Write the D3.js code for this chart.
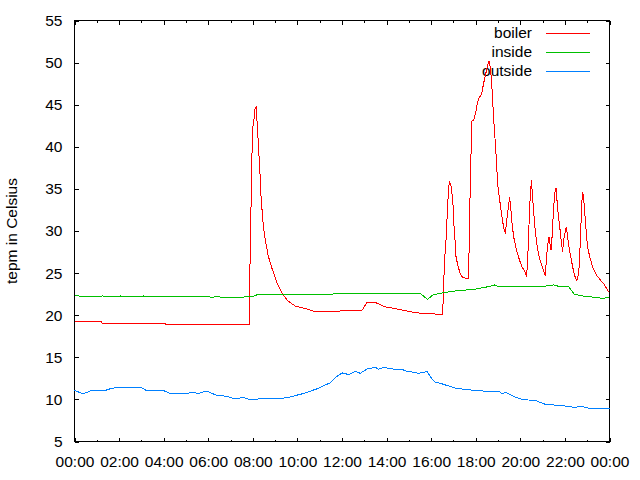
<!DOCTYPE html>
<html>
<head>
<meta charset="utf-8">
<script src="https://cdn.jsdelivr.net/npm/d3@7"></script>
<style>
    body { margin: 0; background: #fff; }
    text { font-family: "Liberation Sans", Arial, sans-serif; font-size: 15.5px; fill: #000; }
</style>
</head>
<body>
<div id="chart"></div>
<script>
var boiler = [
    ["00:00", 19.2], ["01:13", 19.2], ["01:15", 19.0], ["04:04", 19.0], ["04:05", 18.9],
    ["07:50", 18.9], ["07:51", 22.5], ["07:54", 30.1], ["07:57", 37.6], ["07:59", 41.7],
    ["08:01", 42.8], ["08:04", 43.5], ["08:06", 44.5], ["08:09", 44.7], ["08:12", 42.5],
    ["08:14", 41.0], ["08:17", 38.6], ["08:20", 36.2], ["08:22", 34.2], ["08:25", 32.4],
    ["08:28", 30.7], ["08:33", 29.1], ["08:41", 27.1], ["08:52", 25.5], ["09:05", 23.8],
    ["09:19", 22.6], ["09:34", 21.7], ["09:54", 21.1], ["10:21", 20.8], ["10:48", 20.4],
    ["11:28", 20.4], ["11:55", 20.5], ["12:13", 20.5], ["12:54", 20.6], ["13:07", 21.5],
    ["13:30", 21.5], ["13:56", 21.0], ["14:32", 20.7], ["15:17", 20.3], ["15:44", 20.2],
    ["16:31", 20.1], ["16:36", 26.5], ["16:40", 28.9], ["16:43", 31.8], ["16:46", 34.4],
    ["16:49", 35.9], ["16:52", 35.6], ["16:54", 35.2], ["16:57", 34.0], ["17:00", 32.4],
    ["17:02", 30.1], ["17:05", 28.5], ["17:07", 26.9], ["17:13", 25.7], ["17:18", 25.0],
    ["17:24", 24.5], ["17:41", 24.3], ["17:43", 31.6], ["17:46", 36.0], ["17:48", 41.0],
    ["17:50", 43.1], ["17:54", 43.1], ["18:00", 44.1], ["18:03", 44.9], ["18:08", 45.7],
    ["18:16", 46.3], ["18:21", 47.5], ["18:27", 48.7], ["18:32", 49.7], ["18:36", 50.2],
    ["18:40", 49.1], ["18:43", 47.5], ["18:48", 43.5], ["18:54", 39.6], ["18:59", 35.6],
    ["19:07", 32.8], ["19:15", 30.4], ["19:20", 29.7], ["19:23", 31.2], ["19:29", 33.2],
    ["19:31", 34.0], ["19:34", 32.8], ["19:38", 30.8], ["19:42", 29.3], ["19:50", 27.7],
    ["19:58", 26.5], ["20:05", 25.7], ["20:13", 25.1], ["20:17", 24.6], ["20:19", 26.1],
    ["20:22", 28.9], ["20:24", 31.6], ["20:27", 34.4], ["20:30", 36.0], ["20:32", 34.6],
    ["20:35", 32.8], ["20:40", 30.1], ["20:46", 27.9], ["20:51", 26.9], ["20:59", 25.7],
    ["21:07", 24.7], ["21:10", 26.5], ["21:13", 28.1], ["21:17", 29.3], ["21:19", 28.7],
    ["21:23", 27.7], ["21:26", 29.7], ["21:29", 32.4], ["21:33", 34.6], ["21:36", 35.1],
    ["21:38", 34.0], ["21:42", 32.0], ["21:47", 30.1], ["21:51", 28.5], ["21:54", 27.5],
    ["21:56", 28.9], ["22:02", 30.1], ["22:04", 30.5], ["22:07", 29.3], ["22:11", 28.1],
    ["22:15", 27.1], ["22:21", 25.7], ["22:26", 24.7], ["22:32", 24.1], ["22:37", 24.9],
    ["22:40", 27.3], ["22:43", 30.5], ["22:45", 33.2], ["22:48", 34.6], ["22:51", 33.6],
    ["22:53", 32.4], ["22:57", 30.1], ["23:01", 28.1], ["23:07", 26.9], ["23:15", 25.7],
    ["23:26", 24.7], ["23:37", 24.1], ["23:45", 23.7], ["23:53", 23.1], ["23:59", 22.7]
];

var inside = [
    ["00:00", 22.3], ["00:10", 22.3], ["00:20", 22.2], ["01:10", 22.2], ["01:15", 22.3],
    ["01:20", 22.2], ["02:00", 22.2], ["02:05", 22.3], ["02:10", 22.2], ["03:00", 22.2],
    ["03:05", 22.3], ["03:10", 22.2], ["06:00", 22.2], ["06:10", 22.1], ["06:20", 22.2],
    ["06:50", 22.1], ["07:30", 22.1], ["07:40", 22.2], ["08:00", 22.2], ["08:10", 22.4],
    ["08:30", 22.5], ["11:30", 22.5], ["12:00", 22.6], ["15:30", 22.6], ["15:50", 21.9],
    ["16:05", 22.4], ["16:35", 22.7], ["17:10", 22.9], ["18:00", 23.1], ["18:35", 23.4],
    ["18:50", 23.6], ["19:00", 23.4], ["21:00", 23.4], ["21:30", 23.6], ["21:45", 23.4],
    ["22:10", 23.4], ["22:25", 22.5], ["22:45", 22.3], ["23:25", 22.1], ["23:40", 22.0],
    ["24:00", 22.1]
];

var outside = [
    ["00:00", 11.06], ["00:24", 10.66], ["00:42", 11.0], ["01:18", 11.0], ["01:36", 11.26],
    ["01:49", 11.38], ["03:01", 11.4], ["03:15", 11.0], ["03:32", 11.06], ["03:59", 11.06],
    ["04:17", 10.7], ["04:53", 10.66], ["05:20", 10.85], ["05:33", 10.7], ["05:56", 11.0],
    ["06:23", 10.46], ["06:50", 10.38], ["07:08", 10.1], ["07:35", 10.2], ["07:53", 9.98],
    ["08:29", 10.1], ["09:14", 10.1], ["09:41", 10.3], ["10:16", 10.7], ["10:53", 11.26],
    ["11:28", 11.97], ["11:42", 12.6], ["12:00", 13.15], ["12:18", 12.95], ["12:36", 13.35],
    ["12:49", 13.1], ["13:07", 13.6], ["13:30", 13.8], ["13:38", 13.6], ["13:52", 13.8],
    ["14:19", 13.6], ["14:41", 13.6], ["14:50", 13.4], ["15:26", 13.1], ["15:49", 13.3],
    ["16:02", 12.45], ["16:11", 12.05], ["16:29", 11.85], ["17:05", 11.33], ["17:41", 11.14],
    ["18:26", 10.97], ["19:02", 10.97], ["19:11", 10.66], ["19:20", 10.85], ["19:47", 10.26],
    ["20:05", 9.98], ["20:41", 9.87], ["21:08", 9.4], ["21:53", 9.27], ["22:28", 9.04],
    ["22:42", 9.2], ["23:04", 8.97], ["24:00", 8.97]
];

var seriesNames = ["boiler", "inside", "outside"];
var seriesColors = ["#ff0000", "#00c000", "#0080ff"];
var xMajorTicks = [0, 2, 4, 6, 8, 10, 12, 14, 16, 18, 20, 22, 24];
var xMinorTicks = [1, 3, 5, 7, 9, 11, 13, 15, 17, 19, 21, 23];
var yTicks = [5, 10, 15, 20, 25, 30, 35, 40, 45, 50, 55];
var yLabel = "tepm in Celsius";

var width = 640, height = 480;
var plot = { left: 74.5, right: 609.5, top: 20.5, bottom: 441.5 };

function toHours(s) {
    var p = s.split(":");
    return +p[0] + (+p[1]) / 60;
}

function pad(n) {
    return (n < 10 ? "0" : "") + n;
}

var x = d3.scaleLinear().domain([0, 24]).range([plot.left, plot.right]);
var y = d3.scaleLinear().domain([5, 55]).range([plot.bottom, plot.top]);
var color = d3.scaleOrdinal().domain(seriesNames).range(seriesColors);

var svg = d3.select("#chart").append("svg")
    .attr("width", width)
    .attr("height", height)
    .style("display", "block");

svg.append("rect")
    .attr("width", width)
    .attr("height", height)
    .attr("fill", "#fff");

function styleAxis(g) {
    g.select(".domain").remove();
    g.selectAll("line").attr("stroke", "#000").attr("shape-rendering", "crispEdges");
}

// bottom + top, major and minor
svg.append("g")
    .attr("transform", "translate(0," + plot.bottom + ")")
    .call(d3.axisBottom(x).tickValues(xMajorTicks)
        .tickFormat(function (h) { return pad(h % 24) + ":00"; })
        .tickSize(-4).tickPadding(14))
    .call(styleAxis);

svg.append("g")
    .attr("transform", "translate(0," + plot.bottom + ")")
    .call(d3.axisBottom(x).tickValues(xMinorTicks).tickFormat("").tickSize(-2))
    .call(styleAxis);

svg.append("g")
    .attr("transform", "translate(0," + plot.top + ")")
    .call(d3.axisTop(x).tickValues(xMajorTicks).tickFormat("").tickSize(-4))
    .call(styleAxis);

svg.append("g")
    .attr("transform", "translate(0," + plot.top + ")")
    .call(d3.axisTop(x).tickValues(xMinorTicks).tickFormat("").tickSize(-2))
    .call(styleAxis);

svg.append("g")
    .attr("transform", "translate(" + plot.left + ",0)")
    .call(d3.axisLeft(y).tickValues(yTicks).tickSize(-4).tickPadding(12))
    .call(styleAxis);

svg.append("g")
    .attr("transform", "translate(" + plot.right + ",0)")
    .call(d3.axisRight(y).tickValues(yTicks).tickFormat("").tickSize(-4))
    .call(styleAxis);

svg.selectAll(".tick text")
    .attr("font-size", null)
    .attr("font-family", null)
    .attr("fill", "#000");

svg.append("rect")
    .attr("x", plot.left)
    .attr("y", plot.top)
    .attr("width", plot.right - plot.left)
    .attr("height", plot.bottom - plot.top)
    .attr("fill", "none")
    .attr("stroke", "#000")
    .attr("shape-rendering", "crispEdges");

svg.append("text")
    .attr("transform", "translate(17," + ((plot.top + plot.bottom) / 2) + ") rotate(-90)")
    .attr("text-anchor", "middle")
    .text(yLabel);

// key
var key = svg.append("g").selectAll("g")
    .data(seriesNames)
    .enter().append("g")
    .attr("transform", function (d, i) { return "translate(0," + (33.5 + i * 19) + ")"; });

key.append("text")
    .attr("x", 532)
    .attr("dy", "0.28em")
    .attr("text-anchor", "end")
    .text(function (d) { return d; });

key.append("line")
    .attr("x1", 545.5)
    .attr("x2", 589.5)
    .attr("stroke", function (d) { return color(d); })
    .attr("shape-rendering", "crispEdges");

var line = d3.line()
    .x(function (d) { return x(toHours(d[0])); })
    .y(function (d) { return y(d[1]); });

svg.append("g").selectAll("path")
    .data([boiler, inside, outside])
    .enter().append("path")
    .attr("d", line)
    .attr("fill", "none")
    .attr("stroke", function (d, i) { return seriesColors[i]; })
    .attr("stroke-width", 1)
    .attr("shape-rendering", "crispEdges");
</script>
</body>
</html>
